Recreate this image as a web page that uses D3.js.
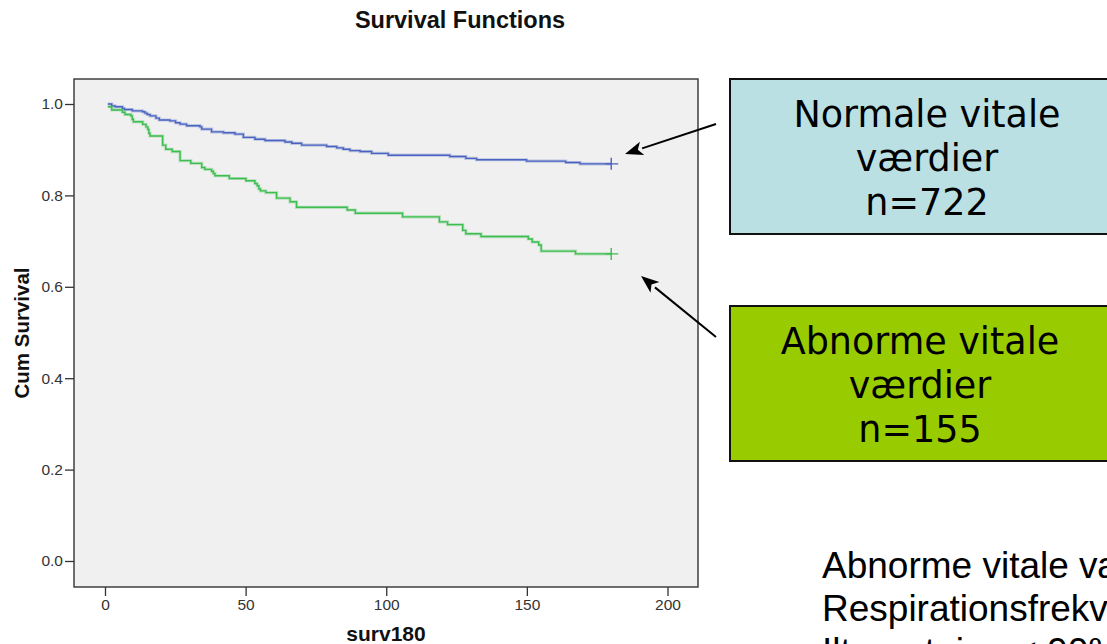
<!DOCTYPE html>
<html>
<head>
<meta charset="utf-8">
<script src="https://cdn.jsdelivr.net/npm/d3@7/dist/d3.min.js"></script>
<style>
  html, body { margin: 0; padding: 0; background: #ffffff; overflow: hidden; }
  svg { display: block; }
</style>
</head>
<body>
<svg id="chart" width="1107" height="644"></svg>
<script>
// ---- Data ----
const chartTitle = "Survival Functions";
const xLabel = "surv180";
const yLabel = "Cum Survival";
const xTicks = [0, 50, 100, 150, 200];
const yTicks = [0.0, 0.2, 0.4, 0.6, 0.8, 1.0];

const normalTimes = [1, 2.4, 3.6, 6.2, 6.9, 9.7, 13.3, 14.2, 15, 16, 18.1, 19.3, 23.1, 25.1, 26.7, 29, 33.8, 34.4, 37.9, 42.1, 46.2, 49.2, 53.3, 56.9, 64, 66.4, 69.9, 78.8, 82.4, 84.7, 87.1, 90.7, 94.8, 100.7, 122.6, 128.3, 132.1, 149.9, 163.8, 168.9, 180];
const normalSurv  = [1.0, 0.996, 0.994, 0.9905, 0.988, 0.985, 0.983, 0.980, 0.977, 0.974, 0.969, 0.965, 0.963, 0.959, 0.956, 0.9525, 0.950, 0.945, 0.939, 0.937, 0.934, 0.927, 0.923, 0.920, 0.917, 0.914, 0.910, 0.907, 0.904, 0.901, 0.898, 0.896, 0.892, 0.888, 0.885, 0.881, 0.878, 0.875, 0.872, 0.869, 0.869];

const abnormTimes = [1, 2.4, 6.2, 7.1, 9.2, 9.7, 10.1, 13.4, 14.6, 15.2, 15.6, 16, 20.5, 21.6, 23.9, 26.7, 30.5, 34.4, 35.5, 37.9, 38.5, 39.1, 44.2, 50.1, 53.3, 54.1, 54.7, 55.3, 57.2, 61, 65.8, 68.1, 86.1, 89, 105.8, 118.9, 121.8, 127.2, 128.3, 133.7, 150.5, 151.9, 154.2, 155.1, 167.3, 180];
const abnormSurv  = [0.994, 0.987, 0.982, 0.977, 0.974, 0.9665, 0.961, 0.9555, 0.950, 0.9445, 0.936, 0.930, 0.910, 0.901, 0.896, 0.876, 0.870, 0.861, 0.857, 0.853, 0.848, 0.843, 0.837, 0.832, 0.826, 0.821, 0.814, 0.810, 0.806, 0.794, 0.786, 0.774, 0.768, 0.761, 0.753, 0.742, 0.736, 0.7235, 0.716, 0.710, 0.7046, 0.698, 0.6915, 0.678, 0.672, 0.672];

const censorTimes = [180, 180];

const boxLines1 = ["Normale vitale", "værdier", "n=722"];
const boxLines2 = ["Abnorme vitale", "værdier", "n=155"];
const noteLines = ["Abnorme vitale værdier:", "Respirationsfrekvens > 24", "Ilt mætning < 90%"];

// ---- Layout ----
const svg = d3.select("#chart");
const plot = { left: 74, right: 698, top: 79, bottom: 587 };

const x = d3.scaleLinear().domain([-11.02, 210.85]).range([plot.left, plot.right]);
const y = d3.scaleLinear().domain([-0.0569, 1.0547]).range([plot.bottom, plot.top]);

const blue = "#4a63c0";
const green = "#3cbd4e";
const axisFont = "'Liberation Sans', Arial, sans-serif";

// Title
svg.append("text")
  .attr("x", 460).attr("y", 28)
  .attr("text-anchor", "middle")
  .attr("font-family", axisFont).attr("font-weight", "bold")
  .attr("font-size", 23.5).attr("fill", "#111")
  .text(chartTitle);

// Plot background
svg.append("rect")
  .attr("x", plot.left).attr("y", plot.top)
  .attr("width", plot.right - plot.left).attr("height", plot.bottom - plot.top)
  .attr("fill", "#f0f0f0").attr("stroke", "#333").attr("stroke-width", 1.4);

// Y axis
const yAxis = d3.axisLeft(y).tickValues(yTicks).tickFormat(d3.format(".1f")).tickSize(9).tickPadding(2);
const gy = svg.append("g").attr("transform", `translate(${plot.left},0)`).call(yAxis);
gy.select(".domain").remove();
gy.selectAll("line").attr("stroke", "#333").attr("stroke-width", 1.3);
gy.selectAll("text").attr("font-family", axisFont).attr("font-size", 15.5).attr("fill", "#333");

// X axis
const xAxis = d3.axisBottom(x).tickValues(xTicks).tickFormat(d3.format("d")).tickSize(9).tickPadding(3);
const gx = svg.append("g").attr("transform", `translate(0,${plot.bottom})`).call(xAxis);
gx.select(".domain").remove();
gx.selectAll("line").attr("stroke", "#333").attr("stroke-width", 1.3);
gx.selectAll("text").attr("font-family", axisFont).attr("font-size", 15.5).attr("fill", "#333");

// Axis titles
svg.append("text")
  .attr("x", (plot.left + plot.right) / 2).attr("y", 641)
  .attr("text-anchor", "middle")
  .attr("font-family", axisFont).attr("font-weight", "bold")
  .attr("font-size", 21).attr("fill", "#111")
  .text(xLabel);

svg.append("text")
  .attr("transform", `translate(29,${(plot.top + plot.bottom) / 2}) rotate(-90)`)
  .attr("text-anchor", "middle")
  .attr("font-family", axisFont).attr("font-weight", "bold")
  .attr("font-size", 20.5).attr("fill", "#111")
  .text(yLabel);

// Survival curves
const line = d3.line().x(d => x(d[0])).y(d => y(d[1])).curve(d3.curveStepAfter);
const series = [
  { t: normalTimes, s: normalSurv, color: blue },
  { t: abnormTimes, s: abnormSurv, color: green }
];
series.forEach((ser, i) => {
  const pts = ser.t.map((t, k) => [t, ser.s[k]]);
  svg.append("path").datum(pts).attr("d", line)
    .attr("fill", "none").attr("stroke", ser.color).attr("stroke-opacity", 0.3).attr("stroke-width", 3.2);
  svg.append("path").datum(pts).attr("d", line)
    .attr("fill", "none").attr("stroke", ser.color).attr("stroke-width", 1.4);
  // censor mark "+"
  const ct = censorTimes[i];
  const cs = ser.s[ser.s.length - 1];
  const cx = x(ct), cy = y(cs);
  svg.append("path")
    .attr("d", `M${cx - 6},${cy}H${cx + 7}M${cx},${cy - 6}V${cy + 6}`)
    .attr("stroke", ser.color).attr("stroke-width", 1.4).attr("fill", "none");
});

// Annotation boxes
const boxFont = "'DejaVu Sans', Verdana, sans-serif";
function box(y0, y1, fill, lines, cxText, baselines) {
  svg.append("rect")
    .attr("x", 730).attr("y", y0).attr("width", 420).attr("height", y1 - y0)
    .attr("fill", fill).attr("stroke", "#111").attr("stroke-width", 2);
  lines.forEach((ln, k) => {
    svg.append("text")
      .attr("x", cxText).attr("y", baselines[k])
      .attr("text-anchor", "middle")
      .attr("font-family", boxFont).attr("font-size", 36.5).attr("fill", "#000")
      .text(ln);
  });
}
box(79, 234, "#bae0e3", boxLines1, 927, [127, 171, 215]);
box(306, 461, "#99cc00", boxLines2, 920, [354, 398, 442]);

// Arrows
function arrow(x1, y1, x2, y2) {
  const ang = Math.atan2(y2 - y1, x2 - x1);
  const L = 18, W = 7;
  const bx = x2 - L * Math.cos(ang), by = y2 - L * Math.sin(ang);
  svg.append("line")
    .attr("x1", x1).attr("y1", y1).attr("x2", bx).attr("y2", by)
    .attr("stroke", "#000").attr("stroke-width", 2);
  const px = -Math.sin(ang) * W, py = Math.cos(ang) * W;
  svg.append("path")
    .attr("d", `M${x2},${y2}L${bx + px},${by + py}L${bx + 0.25 * L * Math.cos(ang)},${by + 0.25 * L * Math.sin(ang)}L${bx - px},${by - py}Z`)
    .attr("fill", "#000");
}
arrow(716, 124, 625, 154);
arrow(716, 337, 641, 276);

// Bottom-right note (runs off the right/bottom edge as in the reference)
noteLines.forEach((ln, k) => {
  svg.append("text")
    .attr("x", 822).attr("y", 578 + k * 43)
    .attr("font-family", axisFont).attr("font-size", 37).attr("fill", "#000")
    .text(ln);
});
</script>
</body>
</html>
